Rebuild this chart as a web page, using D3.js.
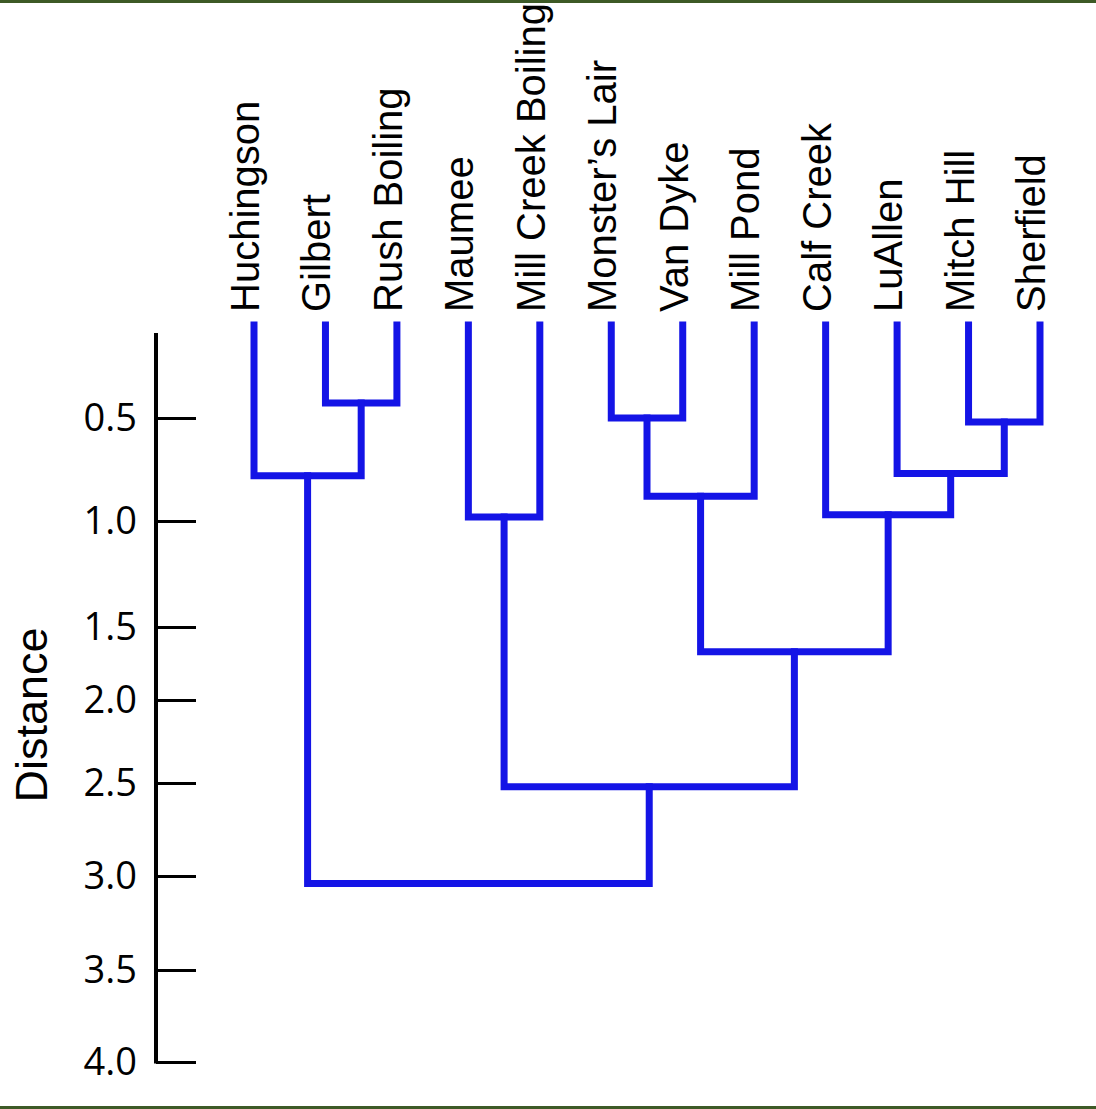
<!DOCTYPE html>
<html>
<head>
<meta charset="utf-8">
<script src="https://cdn.jsdelivr.net/npm/d3@7"></script>
<style>
html,body{margin:0;padding:0;background:#fff;}
svg{display:block;}
</style>
</head>
<body>
<svg id="chart" width="1096" height="1109"></svg>
<script>
// ---- data ----
const leaves = ["Huchingson","Gilbert","Rush Boiling","Maumee","Mill Creek Boiling",
  "Monster\u2019s Lair","Van Dyke","Mill Pond","Calf Creek","LuAllen","Mitch Hill","Sherfield"];
// merges: [left child, right child, distance]; children are leaf names or merge ids "m0".."m10"
const merges = [
  ["Gilbert","Rush Boiling",0.42],        // m0
  ["Huchingson","m0",0.78],               // m1
  ["Maumee","Mill Creek Boiling",0.98],   // m2
  ["Monster\u2019s Lair","Van Dyke",0.50],// m3
  ["m3","Mill Pond",0.88],                // m4
  ["Mitch Hill","Sherfield",0.52],        // m5
  ["LuAllen","m5",0.77],                  // m6
  ["Calf Creek","m6",0.97],               // m7
  ["m4","m7",1.67],                       // m8
  ["m2","m8",2.52],                       // m9
  ["m1","m9",3.04]                        // m10
];
const tickValues = [0.5,1.0,1.5,2.0,2.5,3.0,3.5,4.0];
const tickLabels = ["0.5","1.0","1.5","2.0","2.5","3.0","3.5","4.0"];
const axisTitle = "Distance";

// ---- layout ----
const svg = d3.select("#chart");
const blue = "#1414e6";

// the original axis is non-uniform; piecewise linear scale through tick positions
const y = d3.scaleLinear()
  .domain([0, 0.5, 1.0, 1.5, 2.0, 2.5, 3.0, 3.5, 4.0])
  .range([325, 418, 521, 627, 700, 783, 876, 970, 1062]);

const x = d3.scalePoint().domain(leaves).range([254, 1040]);

// frame bars
svg.append("rect").attr("x",0).attr("y",0).attr("width",1096).attr("height",3).attr("fill","#3d5a26");
svg.append("rect").attr("x",0).attr("y",1106).attr("width",1096).attr("height",3).attr("fill","#3d5a26");

// node positions
const pos = {};
leaves.forEach(l => pos[l] = {x: x(l), h: 0});
merges.forEach((m, i) => {
  const a = pos[m[0]], b = pos[m[1]];
  pos["m"+i] = {x: (a.x + b.x) / 2, h: m[2]};
});

const g = svg.append("g");
merges.forEach((m, i) => {
  const a = pos[m[0]], b = pos[m[1]], h = m[2];
  const path = d3.path();
  path.moveTo(a.x, y(a.h));
  path.lineTo(a.x, y(h));
  path.lineTo(b.x, y(h));
  path.lineTo(b.x, y(b.h));
  g.append("path").attr("d", path.toString())
    .attr("fill","none").attr("stroke",blue).attr("stroke-width",7)
    .attr("stroke-linejoin","miter").attr("stroke-linecap","square");
});

// leaf labels
svg.append("g").selectAll("text").data(leaves).join("text")
  .attr("transform", d => `translate(${x(d)+5},312) rotate(-90)`)
  .attr("text-anchor","start")
  .attr("font-family","'Liberation Sans', Arial, sans-serif")
  .attr("font-size",40)
  .attr("fill","#000")
  .text(d => d);

// axis
const axis = d3.axisLeft(y).tickValues(tickValues)
  .tickFormat((d,i) => tickLabels[i])
  .tickSizeInner(-40).tickSizeOuter(0).tickPadding(19);
const ag = svg.append("g").attr("transform","translate(156,0)").call(axis);
ag.select(".domain").remove();
ag.selectAll(".tick line").attr("stroke","#000").attr("stroke-width",3);
ag.selectAll(".tick text")
  .attr("font-family","'Open Sans', 'Noto Sans', sans-serif")
  .attr("font-size",38).attr("fill","#000");
ag.append("line").attr("x1",0).attr("x2",0).attr("y1",333).attr("y2",y(4.0)+1.5)
  .attr("stroke","#000").attr("stroke-width",4);

svg.append("text")
  .attr("transform","translate(47,715) rotate(-90)")
  .attr("text-anchor","middle")
  .attr("font-family","'Liberation Sans', Arial, sans-serif")
  .attr("font-size",45).attr("fill","#000")
  .text(axisTitle);
</script>
</body>
</html>
